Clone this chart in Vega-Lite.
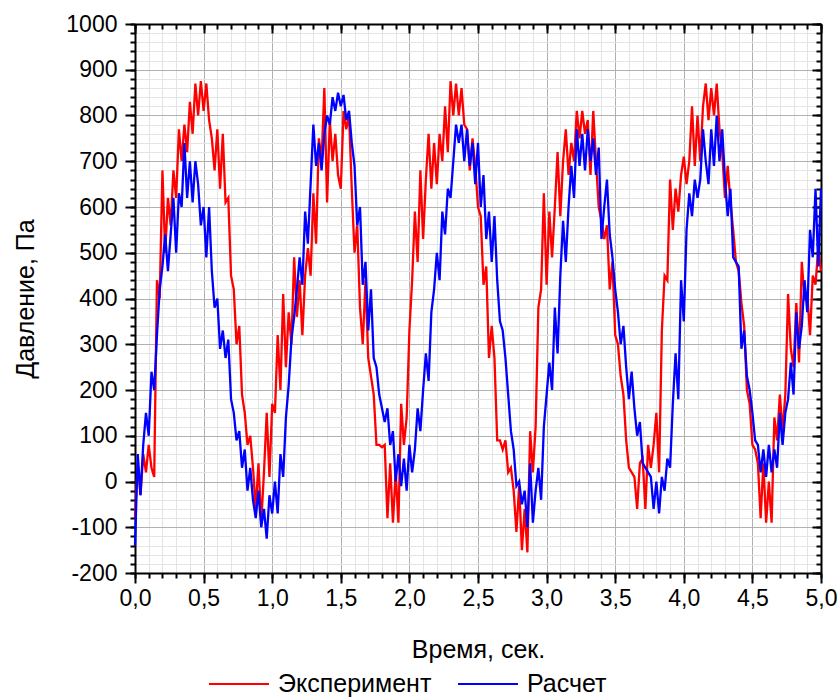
{
"$schema": "https://vega.github.io/schema/vega-lite/v6.json",
"width": 686, "height": 549,
"autosize": {"type": "none"},
"padding": {"left": 135, "top": 24, "right": 17, "bottom": 125},
"background": "white",
"config": {"view": {"stroke": null}, "font": "Liberation Sans",
  "axis": {"labelFont": "Liberation Sans", "titleFont": "Liberation Sans", "labelColor": "#000", "titleColor": "#000", "titleFontWeight": "normal", "tickColor": "#000", "domainColor": "#000", "labelFlush": false, "labelOverlap": false}},
"data": {"values": [
{"t":0.00,"Эксперимент":-80,"Расчет":-140},{"t":0.02,"Эксперимент":40,"Расчет":60},{"t":0.04,"Эксперимент":-30,"Расчет":-30},{"t":0.06,"Эксперимент":60,"Расчет":80},{"t":0.08,"Эксперимент":20,"Расчет":150},{"t":0.10,"Эксперимент":80,"Расчет":100},{"t":0.12,"Эксперимент":30,"Расчет":240},{"t":0.14,"Эксперимент":10,"Расчет":200},{"t":0.16,"Эксперимент":440,"Расчет":320},{"t":0.18,"Эксперимент":400,"Расчет":420},
{"t":0.20,"Эксперимент":680,"Расчет":470},{"t":0.22,"Эксперимент":500,"Расчет":540},{"t":0.24,"Эксперимент":620,"Расчет":460},{"t":0.26,"Эксперимент":560,"Расчет":540},{"t":0.28,"Эксперимент":680,"Расчет":620},{"t":0.30,"Эксперимент":620,"Расчет":500},{"t":0.32,"Эксперимент":770,"Расчет":630},{"t":0.34,"Эксперимент":700,"Расчет":600},{"t":0.36,"Эксперимент":780,"Расчет":740},{"t":0.38,"Эксперимент":720,"Расчет":620},
{"t":0.40,"Эксперимент":830,"Расчет":700},{"t":0.42,"Эксперимент":760,"Расчет":610},{"t":0.44,"Эксперимент":870,"Расчет":700},{"t":0.46,"Эксперимент":800,"Расчет":650},{"t":0.48,"Эксперимент":875,"Расчет":560},{"t":0.50,"Эксперимент":810,"Расчет":600},{"t":0.52,"Эксперимент":870,"Расчет":490},{"t":0.54,"Эксперимент":790,"Расчет":600},{"t":0.56,"Эксперимент":750,"Расчет":460},{"t":0.58,"Эксперимент":680,"Расчет":380},
{"t":0.60,"Эксперимент":770,"Расчет":400},{"t":0.62,"Эксперимент":640,"Расчет":290},{"t":0.64,"Эксперимент":760,"Расчет":330},{"t":0.66,"Эксперимент":610,"Расчет":270},{"t":0.68,"Эксперимент":620,"Расчет":310},{"t":0.70,"Эксперимент":450,"Расчет":180},{"t":0.72,"Эксперимент":420,"Расчет":150},{"t":0.74,"Эксперимент":300,"Расчет":90},{"t":0.76,"Эксперимент":340,"Расчет":110},{"t":0.78,"Эксперимент":190,"Расчет":30},
{"t":0.80,"Эксперимент":150,"Расчет":70},{"t":0.82,"Эксперимент":80,"Расчет":-20},{"t":0.84,"Эксперимент":100,"Расчет":30},{"t":0.86,"Эксперимент":30,"Расчет":-40},{"t":0.88,"Эксперимент":-60,"Расчет":-80},{"t":0.90,"Эксперимент":40,"Расчет":-20},{"t":0.92,"Эксперимент":-90,"Расчет":-100},{"t":0.94,"Эксперимент":20,"Расчет":-60},{"t":0.96,"Эксперимент":150,"Расчет":-125},{"t":0.98,"Эксперимент":10,"Расчет":-30},
{"t":1.00,"Эксперимент":170,"Расчет":-70},{"t":1.02,"Эксперимент":150,"Расчет":0},{"t":1.04,"Эксперимент":320,"Расчет":-70},{"t":1.06,"Эксперимент":200,"Расчет":60},{"t":1.08,"Эксперимент":410,"Расчет":10},{"t":1.10,"Эксперимент":250,"Расчет":140},{"t":1.12,"Эксперимент":370,"Расчет":210},{"t":1.14,"Эксперимент":300,"Расчет":310},{"t":1.16,"Эксперимент":490,"Расчет":360},{"t":1.18,"Эксперимент":360,"Расчет":420},
{"t":1.20,"Эксперимент":440,"Расчет":490},{"t":1.22,"Эксперимент":320,"Расчет":430},{"t":1.24,"Эксперимент":450,"Расчет":590},{"t":1.26,"Эксперимент":510,"Расчет":520},{"t":1.28,"Эксперимент":450,"Расчет":650},{"t":1.30,"Эксперимент":630,"Расчет":780},{"t":1.32,"Эксперимент":520,"Расчет":690},{"t":1.34,"Эксперимент":750,"Расчет":740},{"t":1.36,"Эксперимент":700,"Расчет":680},{"t":1.38,"Эксперимент":860,"Расчет":760},
{"t":1.40,"Эксперимент":610,"Расчет":800},{"t":1.42,"Эксперимент":790,"Расчет":780},{"t":1.44,"Эксперимент":700,"Расчет":840},{"t":1.46,"Эксперимент":760,"Расчет":810},{"t":1.48,"Эксперимент":670,"Расчет":850},{"t":1.50,"Эксперимент":640,"Расчет":820},{"t":1.52,"Эксперимент":810,"Расчет":845},{"t":1.54,"Эксперимент":770,"Расчет":790},{"t":1.56,"Эксперимент":800,"Расчет":810},{"t":1.58,"Эксперимент":640,"Расчет":740},
{"t":1.60,"Эксперимент":500,"Расчет":690},{"t":1.62,"Эксперимент":560,"Расчет":560},{"t":1.64,"Эксперимент":380,"Расчет":600},{"t":1.66,"Эксперимент":300,"Расчет":430},{"t":1.68,"Эксперимент":440,"Расчет":480},{"t":1.70,"Эксперимент":270,"Расчет":330},{"t":1.72,"Эксперимент":230,"Расчет":420},{"t":1.74,"Эксперимент":190,"Расчет":270},{"t":1.76,"Эксперимент":80,"Расчет":250},{"t":1.78,"Эксперимент":80,"Расчет":190},
{"t":1.80,"Эксперимент":75,"Расчет":160},{"t":1.82,"Эксперимент":80,"Расчет":130},{"t":1.84,"Эксперимент":-80,"Расчет":160},{"t":1.86,"Эксперимент":40,"Расчет":80},{"t":1.88,"Эксперимент":-90,"Расчет":110},{"t":1.90,"Эксперимент":20,"Расчет":0},{"t":1.92,"Эксперимент":-90,"Расчет":60},{"t":1.94,"Эксперимент":170,"Расчет":-10},{"t":1.96,"Эксперимент":80,"Расчет":50},{"t":1.98,"Эксперимент":140,"Расчет":-20},
{"t":2.00,"Эксперимент":330,"Расчет":80},{"t":2.02,"Эксперимент":440,"Расчет":20},{"t":2.04,"Эксперимент":590,"Расчет":70},{"t":2.06,"Эксперимент":480,"Расчет":160},{"t":2.08,"Эксперимент":680,"Расчет":110},{"t":2.10,"Эксперимент":530,"Расчет":200},{"t":2.12,"Эксперимент":660,"Расчет":280},{"t":2.14,"Эксперимент":760,"Расчет":220},{"t":2.16,"Эксперимент":640,"Расчет":370},{"t":2.18,"Эксперимент":740,"Расчет":420},
{"t":2.20,"Эксперимент":650,"Расчет":500},{"t":2.22,"Эксперимент":760,"Расчет":440},{"t":2.24,"Эксперимент":700,"Расчет":590},{"t":2.26,"Эксперимент":820,"Расчет":540},{"t":2.28,"Эксперимент":720,"Расчет":640},{"t":2.30,"Эксперимент":875,"Расчет":620},{"t":2.32,"Эксперимент":800,"Расчет":700},{"t":2.34,"Эксперимент":870,"Расчет":780},{"t":2.36,"Эксперимент":800,"Расчет":740},{"t":2.38,"Эксперимент":860,"Расчет":780},
{"t":2.40,"Эксперимент":780,"Расчет":700},{"t":2.42,"Эксперимент":770,"Расчет":770},{"t":2.44,"Эксперимент":680,"Расчет":690},{"t":2.46,"Эксперимент":750,"Расчет":740},{"t":2.48,"Эксперимент":690,"Расчет":650},{"t":2.50,"Эксперимент":600,"Расчет":740},{"t":2.52,"Эксперимент":580,"Расчет":600},{"t":2.54,"Эксперимент":430,"Расчет":670},{"t":2.56,"Эксперимент":470,"Расчет":530},{"t":2.58,"Эксперимент":270,"Расчет":590},
{"t":2.60,"Эксперимент":340,"Расчет":480},{"t":2.62,"Эксперимент":270,"Расчет":580},{"t":2.64,"Эксперимент":90,"Расчет":440},{"t":2.66,"Эксперимент":90,"Расчет":350},{"t":2.68,"Эксперимент":70,"Расчет":330},{"t":2.70,"Эксперимент":90,"Расчет":270},{"t":2.72,"Эксперимент":20,"Расчет":190},{"t":2.74,"Эксперимент":30,"Расчет":110},{"t":2.76,"Эксперимент":-20,"Расчет":70},{"t":2.78,"Эксперимент":-110,"Расчет":-10},
{"t":2.80,"Эксперимент":-10,"Расчет":0},{"t":2.82,"Эксперимент":-150,"Расчет":-50},{"t":2.84,"Эксперимент":-60,"Расчет":-20},{"t":2.86,"Эксперимент":-155,"Расчет":-100},{"t":2.88,"Эксперимент":110,"Расчет":40},{"t":2.90,"Эксперимент":20,"Расчет":-90},{"t":2.92,"Эксперимент":120,"Расчет":-20},{"t":2.94,"Эксперимент":380,"Расчет":30},{"t":2.96,"Эксперимент":420,"Расчет":-40},{"t":2.98,"Эксперимент":630,"Расчет":120},
{"t":3.00,"Эксперимент":430,"Расчет":190},{"t":3.02,"Эксперимент":590,"Расчет":260},{"t":3.04,"Эксперимент":490,"Расчет":200},{"t":3.06,"Эксперимент":600,"Расчет":380},{"t":3.08,"Эксперимент":720,"Расчет":280},{"t":3.10,"Эксперимент":580,"Расчет":450},{"t":3.12,"Эксперимент":700,"Расчет":570},{"t":3.14,"Эксперимент":770,"Расчет":480},{"t":3.16,"Эксперимент":670,"Расчет":600},{"t":3.18,"Эксперимент":740,"Расчет":690},
{"t":3.20,"Эксперимент":700,"Расчет":620},{"t":3.22,"Эксперимент":810,"Расчет":770},{"t":3.24,"Эксперимент":750,"Расчет":690},{"t":3.26,"Эксперимент":810,"Расчет":760},{"t":3.28,"Эксперимент":760,"Расчет":680},{"t":3.30,"Эксперимент":790,"Расчет":770},{"t":3.32,"Эксперимент":670,"Расчет":700},{"t":3.34,"Эксперимент":810,"Расчет":750},{"t":3.36,"Эксперимент":700,"Расчет":670},{"t":3.38,"Эксперимент":600,"Расчет":730},
{"t":3.40,"Эксперимент":570,"Расчет":530},{"t":3.42,"Эксперимент":530,"Расчет":600},{"t":3.44,"Эксперимент":560,"Расчет":660},{"t":3.46,"Эксперимент":420,"Расчет":540},{"t":3.48,"Эксперимент":480,"Расчет":490},{"t":3.50,"Эксперимент":320,"Расчет":420},{"t":3.52,"Эксперимент":300,"Расчет":370},{"t":3.54,"Эксперимент":230,"Расчет":300},{"t":3.56,"Эксперимент":190,"Расчет":340},{"t":3.58,"Эксперимент":90,"Расчет":250},
{"t":3.60,"Эксперимент":30,"Расчет":180},{"t":3.62,"Эксперимент":20,"Расчет":240},{"t":3.64,"Эксперимент":10,"Расчет":160},{"t":3.66,"Эксперимент":-60,"Расчет":100},{"t":3.68,"Эксперимент":40,"Расчет":130},{"t":3.70,"Эксперимент":50,"Расчет":40},{"t":3.72,"Эксперимент":-60,"Расчет":30},{"t":3.74,"Эксперимент":80,"Расчет":20},{"t":3.76,"Эксперимент":30,"Расчет":10},{"t":3.78,"Эксперимент":80,"Расчет":-60},
{"t":3.80,"Эксперимент":150,"Расчет":0},{"t":3.82,"Эксперимент":20,"Расчет":-70},{"t":3.84,"Эксперимент":330,"Расчет":10},{"t":3.86,"Эксперимент":450,"Расчет":-20},{"t":3.88,"Эксперимент":440,"Расчет":50},{"t":3.90,"Эксперимент":660,"Расчет":30},{"t":3.92,"Эксперимент":550,"Расчет":170},{"t":3.94,"Эксперимент":640,"Расчет":280},{"t":3.96,"Эксперимент":590,"Расчет":180},{"t":3.98,"Эксперимент":670,"Расчет":440},
{"t":4.00,"Эксперимент":710,"Расчет":350},{"t":4.02,"Эксперимент":650,"Расчет":550},{"t":4.04,"Эксперимент":700,"Расчет":630},{"t":4.06,"Эксперимент":820,"Расчет":580},{"t":4.08,"Эксперимент":690,"Расчет":660},{"t":4.10,"Эксперимент":800,"Расчет":620},{"t":4.12,"Эксперимент":700,"Расчет":660},{"t":4.14,"Эксперимент":820,"Расчет":770},{"t":4.16,"Эксперимент":870,"Расчет":700},{"t":4.18,"Эксперимент":790,"Расчет":650},
{"t":4.20,"Эксперимент":860,"Расчет":770},{"t":4.22,"Эксперимент":800,"Расчет":690},{"t":4.24,"Эксперимент":870,"Расчет":800},{"t":4.26,"Эксперимент":770,"Расчет":700},{"t":4.28,"Эксперимент":720,"Расчет":770},{"t":4.30,"Эксперимент":620,"Расчет":660},{"t":4.32,"Эксперимент":690,"Расчет":580},{"t":4.34,"Эксперимент":610,"Расчет":640},{"t":4.36,"Эксперимент":550,"Расчет":490},{"t":4.38,"Эксперимент":480,"Расчет":480},
{"t":4.40,"Эксперимент":460,"Расчет":470},{"t":4.42,"Эксперимент":390,"Расчет":290},{"t":4.44,"Эксперимент":340,"Расчет":330},{"t":4.46,"Эксперимент":200,"Расчет":230},{"t":4.48,"Эксперимент":170,"Расчет":200},{"t":4.50,"Эксперимент":80,"Расчет":150},{"t":4.52,"Эксперимент":70,"Расчет":90},{"t":4.54,"Эксперимент":40,"Расчет":80},{"t":4.56,"Эксперимент":-80,"Расчет":20},{"t":4.58,"Эксперимент":40,"Расчет":70},
{"t":4.60,"Эксперимент":-90,"Расчет":10},{"t":4.62,"Эксперимент":0,"Расчет":80},{"t":4.64,"Эксперимент":-90,"Расчет":20},{"t":4.66,"Эксперимент":140,"Расчет":70},{"t":4.68,"Эксперимент":90,"Расчет":30},{"t":4.70,"Эксперимент":190,"Расчет":150},{"t":4.72,"Эксперимент":110,"Расчет":80},{"t":4.74,"Эксперимент":190,"Расчет":150},{"t":4.76,"Эксперимент":410,"Расчет":180},{"t":4.78,"Эксперимент":290,"Расчет":260},
{"t":4.80,"Эксперимент":250,"Расчет":190},{"t":4.82,"Эксперимент":390,"Расчет":370},{"t":4.84,"Эксперимент":260,"Расчет":290},{"t":4.86,"Эксперимент":480,"Расчет":340},{"t":4.88,"Эксперимент":400,"Расчет":440},{"t":4.90,"Эксперимент":410,"Расчет":370},{"t":4.92,"Эксперимент":320,"Расчет":550},{"t":4.94,"Эксперимент":450,"Расчет":490},{"t":4.96,"Эксперимент":430,"Расчет":640},{"t":4.98,"Эксперимент":510,"Расчет":470},
{"t":5.00,"Эксперимент":460,"Расчет":640}
]},
"transform": [{"fold": ["Эксперимент", "Расчет"], "as": ["series", "value"]}],
"resolve": {"axis": {"x": "independent", "y": "independent"}},
"layer": [
 {"mark": {"type": "point", "opacity": 0},
  "encoding": {
   "x": {"field": "t", "type": "quantitative", "scale": {"domain": [0, 5], "nice": false, "zero": false},
     "axis": {"orient": "bottom", "values": [0,0.1,0.2,0.3,0.4,0.5,0.6,0.7,0.8,0.9,1,1.1,1.2,1.3,1.4,1.5,1.6,1.7,1.8,1.9,2,2.1,2.2,2.3,2.4,2.5,2.6,2.7,2.8,2.9,3,3.1,3.2,3.3,3.4,3.5,3.6,3.7,3.8,3.9,4,4.1,4.2,4.3,4.4,4.5,4.6,4.7,4.8,4.9,5],
       "labels": false, "title": null, "grid": true, "gridColor": "#e4e4e4", "gridWidth": 1, "tickSize": 5, "tickWidth": 2, "domain": false}},
   "y": {"field": "value", "type": "quantitative", "scale": {"domain": [-200, 1000], "nice": false, "zero": false},
     "axis": {"orient": "left", "values": [-200,-180,-160,-140,-120,-100,-80,-60,-40,-20,0,20,40,60,80,100,120,140,160,180,200,220,240,260,280,300,320,340,360,380,400,420,440,460,480,500,520,540,560,580,600,620,640,660,680,700,720,740,760,780,800,820,840,860,880,900,920,940,960,980,1000],
       "labels": false, "title": null, "grid": true, "gridColor": "#e4e4e4", "gridWidth": 1, "tickSize": 5, "tickWidth": 2, "domain": false}}
  }},
 {"mark": {"type": "line", "strokeWidth": 2.3},
  "encoding": {
   "x": {"field": "t", "type": "quantitative", "scale": {"domain": [0, 5], "nice": false, "zero": false},
     "axis": {"orient": "bottom", "values": [0,0.5,1,1.5,2,2.5,3,3.5,4,4.5,5],
       "labelExpr": "replace(format(datum.value, '.1f'), '.', ',')", "labelFontSize": 23, "labelPadding": 4,
       "title": "Время, сек.", "titleFontSize": 25, "titlePadding": 27,
       "grid": true, "gridColor": "#b0b0b0", "gridWidth": 1, "tickSize": 10, "tickWidth": 2, "domain": true, "domainWidth": 2}},
   "y": {"field": "value", "type": "quantitative", "scale": {"domain": [-200, 1000], "nice": false, "zero": false},
     "axis": {"orient": "left", "values": [-200,-100,0,100,200,300,400,500,600,700,800,900,1000],
       "labelExpr": "datum.value < 0 ? '-' + abs(datum.value) : '' + datum.value", "labelFontSize": 23, "labelPadding": 8,
       "title": "Давление, Па", "titleFontSize": 25, "titlePadding": 27,
       "grid": true, "gridColor": "#b0b0b0", "gridWidth": 1, "tickSize": 10, "tickWidth": 2, "domain": true, "domainWidth": 2}},
   "color": {"field": "series", "type": "nominal", "sort": ["Эксперимент", "Расчет"],
     "scale": {"domain": ["Эксперимент", "Расчет"], "range": ["#ff0000", "#0000ff"]},
     "legend": {"orient": "none", "legendX": 73, "legendY": 629, "direction": "horizontal", "title": null,
       "symbolType": "stroke", "symbolSize": 3600, "symbolStrokeWidth": 2, "labelFontSize": 25, "labelFont": "Liberation Sans", "labelColor": "#000",
       "columnPadding": 22, "labelOffset": 8, "padding": 0}}
  }},
 {"mark": {"type": "point", "opacity": 0},
  "encoding": {
   "x": {"field": "t", "type": "quantitative", "scale": {"domain": [0, 5], "nice": false, "zero": false},
     "axis": {"orient": "top", "values": [0,0.1,0.2,0.3,0.4,0.5,0.6,0.7,0.8,0.9,1,1.1,1.2,1.3,1.4,1.5,1.6,1.7,1.8,1.9,2,2.1,2.2,2.3,2.4,2.5,2.6,2.7,2.8,2.9,3,3.1,3.2,3.3,3.4,3.5,3.6,3.7,3.8,3.9,4,4.1,4.2,4.3,4.4,4.5,4.6,4.7,4.8,4.9,5],
       "labels": false, "title": null, "grid": false, "tickSize": -5, "tickWidth": 2, "domain": false}},
   "y": {"field": "value", "type": "quantitative", "scale": {"domain": [-200, 1000], "nice": false, "zero": false},
     "axis": {"orient": "right", "values": [-200,-180,-160,-140,-120,-100,-80,-60,-40,-20,0,20,40,60,80,100,120,140,160,180,200,220,240,260,280,300,320,340,360,380,400,420,440,460,480,500,520,540,560,580,600,620,640,660,680,700,720,740,760,780,800,820,840,860,880,900,920,940,960,980,1000],
       "labels": false, "title": null, "grid": false, "tickSize": -5, "tickWidth": 2, "domain": false}}
  }},
 {"mark": {"type": "point", "opacity": 0},
  "encoding": {
   "x": {"field": "t", "type": "quantitative", "scale": {"domain": [0, 5], "nice": false, "zero": false},
     "axis": {"orient": "top", "values": [0,0.5,1,1.5,2,2.5,3,3.5,4,4.5,5],
       "labels": false, "title": null, "grid": false, "tickSize": -9, "tickWidth": 2, "domain": true, "domainWidth": 2}},
   "y": {"field": "value", "type": "quantitative", "scale": {"domain": [-200, 1000], "nice": false, "zero": false},
     "axis": {"orient": "right", "values": [-200,-100,0,100,200,300,400,500,600,700,800,900,1000],
       "labels": false, "title": null, "grid": false, "tickSize": -9, "tickWidth": 2, "domain": true, "domainWidth": 2}}
  }}
]
}
